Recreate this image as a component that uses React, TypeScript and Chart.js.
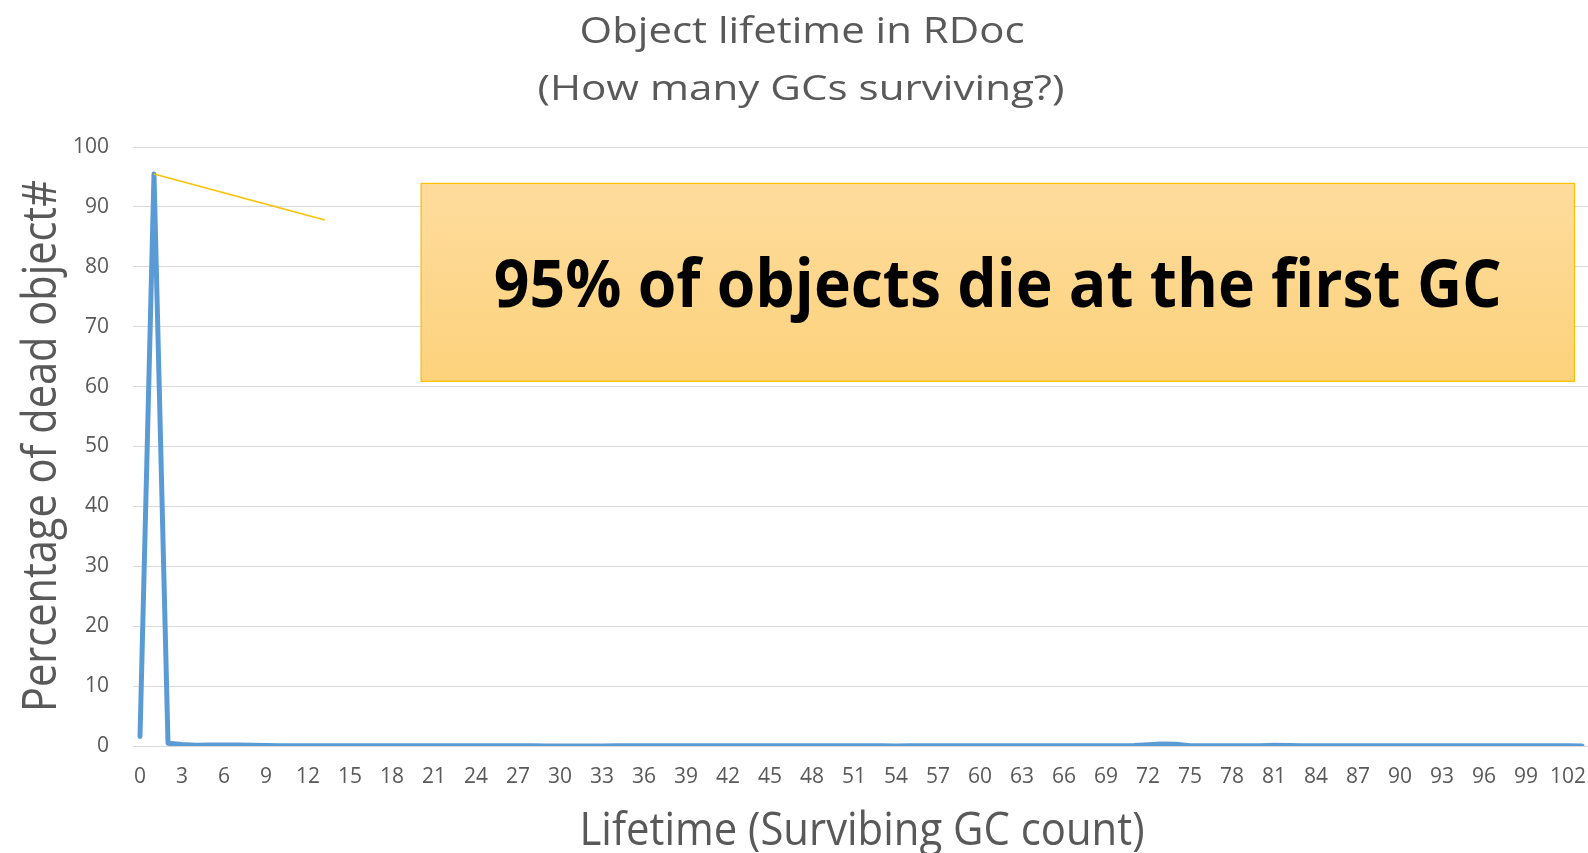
import React, { useEffect, useRef } from "react";
import { Chart, registerables } from "chart.js";

Chart.register(...registerables);

// ---- data ----
const lifetimeCategories: number[] = [
  0, 1, 2, 3, 4, 5, 6, 7, 8, 9, 10, 11, 12, 13, 14, 15, 16, 17, 18, 19,
  20, 21, 22, 23, 24, 25, 26, 27, 28, 29, 30, 31, 32, 33, 34, 35, 36, 37, 38, 39,
  40, 41, 42, 43, 44, 45, 46, 47, 48, 49, 50, 51, 52, 53, 54, 55, 56, 57, 58, 59,
  60, 61, 62, 63, 64, 65, 66, 67, 68, 69, 70, 71, 72, 73, 74, 75, 76, 77, 78, 79,
  80, 81, 82, 83, 84, 85, 86, 87, 88, 89, 90, 91, 92, 93, 94, 95, 96, 97, 98, 99,
  100, 101, 102, 103,
];

const deadObjectPercent: number[] = [
  1.6, 95.5, 0.45, 0.25, 0.12, 0.15, 0.15, 0.15, 0.12, 0.08,
  0.06, 0.06, 0.05, 0.05, 0.05, 0.04, 0.04, 0.04, 0.04, 0.03,
  0.04, 0.03, 0.03, 0.03, 0.03, 0.03, 0.03, 0.04, 0.03, 0.02,
  0.01, 0.01, 0.01, 0.02, 0.05, 0.05, 0.04, 0.04, 0.04, 0.04,
  0.04, 0.04, 0.04, 0.04, 0.04, 0.04, 0.04, 0.04, 0.04, 0.04,
  0.04, 0.04, 0.03, 0.03, 0.02, 0.04, 0.05, 0.04, 0.04, 0.04,
  0.04, 0.04, 0.04, 0.04, 0.04, 0.04, 0.04, 0.04, 0.04, 0.04,
  0.05, 0.08, 0.2, 0.35, 0.3, 0.06, 0.04, 0.04, 0.05, 0.05,
  0.06, 0.12, 0.08, 0.04, 0.03, 0.03, 0.03, 0.03, 0.03, 0.03,
  0.03, 0.04, 0.05, 0.04, 0.03, 0.03, 0.05, 0.04, 0.03, 0.03,
  0.03, 0.03, 0.03, 0.02,
];

const xTickLabels: string[] = [
  "0", "3", "6", "9", "12", "15", "18", "21", "24", "27", "30", "33", "36",
  "39", "42", "45", "48", "51", "54", "57", "60", "63", "66", "69", "72", "75",
  "78", "81", "84", "87", "90", "93", "96", "99", "102",
];

const chartTitleLines: string[] = ["Object lifetime in RDoc", "(How many GCs surviving?)"];
const xAxisTitle = "Lifetime (Survibing GC count)";
const yAxisTitle = "Percentage of dead object#";
const calloutText = "95% of objects die at the first GC";

// ---- styling ----
const TEXT_GRAY = "#595959";
const FONT = "'Open Sans', 'DejaVu Sans', sans-serif";

function drawFitText(
  ctx: CanvasRenderingContext2D,
  text: string,
  x: number,
  y: number,
  size: number,
  targetWidth: number,
  weight: string,
  color: string,
  rotate = 0
) {
  ctx.save();
  ctx.font = `${weight} ${size}px ${FONT}`;
  const w = ctx.measureText(text).width;
  const sx = targetWidth / w;
  ctx.translate(x, y);
  if (rotate) ctx.rotate(rotate);
  ctx.scale(sx, 1);
  ctx.textAlign = "center";
  ctx.textBaseline = "alphabetic";
  ctx.fillStyle = color;
  ctx.fillText(text, 0, 0);
  ctx.restore();
}

const decorPlugin = {
  id: "decor",
  beforeDatasetsDraw(chart: any) {
    const { ctx, scales } = chart;
    const xs = scales.x;
    const ys = scales.y;
    const left = xs.getPixelForValue(20.05);
    const right = xs.getPixelForValue(102.5);
    const top = ys.getPixelForValue(94.0);
    const bottom = ys.getPixelForValue(60.8);
    ctx.save();
    const g = ctx.createLinearGradient(0, top, 0, bottom);
    g.addColorStop(0, "#FEDC9D");
    g.addColorStop(1, "#FDD27C");
    ctx.fillStyle = g;
    ctx.fillRect(left, top, right - left, bottom - top);
    ctx.strokeStyle = "#FFC000";
    ctx.lineWidth = 1.2;
    ctx.strokeRect(left + 0.5, top + 0.5, right - left - 1, bottom - top - 1);
    ctx.restore();
    const cx = (left + right) / 2;
    const cy = (top + bottom) / 2;
    drawFitText(ctx, calloutText, cx, cy + 25, 67, 1008, "700", "#000000");
  },
  afterDatasetsDraw(chart: any) {
    const { ctx, scales } = chart;
    const meta = chart.getDatasetMeta(0);
    const peak = meta.data[1];
    const ex = scales.x.getPixelForValue(13.2);
    const ey = scales.y.getPixelForValue(87.8);
    ctx.save();
    ctx.strokeStyle = "#FFC000";
    ctx.lineWidth = 1.5;
    ctx.beginPath();
    ctx.moveTo(peak.x, peak.y);
    ctx.lineTo(ex, ey);
    ctx.stroke();
    ctx.restore();
  },
  afterDraw(chart: any) {
    const { ctx } = chart;
    drawFitText(ctx, chartTitleLines[0], 802, 43, 36, 445, "400", TEXT_GRAY);
    drawFitText(ctx, chartTitleLines[1], 801, 100, 35, 527, "400", TEXT_GRAY);
    drawFitText(ctx, xAxisTitle, 862, 845, 45, 565, "400", TEXT_GRAY);
    drawFitText(ctx, yAxisTitle, 56, 446, 47, 532, "400", TEXT_GRAY, -Math.PI / 2);
  },
};

export default function App() {
  const canvasRef = useRef<HTMLCanvasElement | null>(null);

  useEffect(() => {
    const canvas = canvasRef.current;
    if (!canvas) return;
    const chart = new Chart(canvas, {
      type: "line",
      data: {
        labels: lifetimeCategories.map(String),
        datasets: [
          {
            data: deadObjectPercent,
            borderColor: "#5B9BD5",
            backgroundColor: "#5B9BD5",
            borderWidth: 5,
            pointRadius: 0,
            pointHoverRadius: 0,
            tension: 0,
            borderJoinStyle: "round",
            borderCapStyle: "round",
            fill: false,
          },
        ],
      },
      options: {
        responsive: false,
        animation: false,
        devicePixelRatio: 1,
        layout: { padding: { left: 0, right: 0, top: 147, bottom: 0 } },
        plugins: {
          legend: { display: false },
          title: { display: false },
          tooltip: { enabled: false },
        },
        scales: {
          x: {
            type: "category",
            offset: true,
            grid: { display: false, drawTicks: false },
            border: { display: false },
            ticks: {
              autoSkip: false,
              maxRotation: 0,
              minRotation: 0,
              padding: 18,
              color: TEXT_GRAY,
              font: { family: FONT, size: 21 },
              callback: (_v: any, i: number) => {
                const s = String(lifetimeCategories[i]);
                return xTickLabels.includes(s) ? s : "";
              },
            },
            afterFit: (s: any) => {
              s.height = 107;
              s.paddingLeft = 0;
              s.paddingRight = 0;
            },
          },
          y: {
            min: 0,
            max: 100,
            grid: { color: "#D9D9D9", lineWidth: 1, drawTicks: false },
            border: { display: false },
            ticks: {
              stepSize: 10,
              padding: 24,
              color: TEXT_GRAY,
              font: { family: FONT, size: 21 },
            },
            afterFit: (s: any) => {
              s.width = 133;
              s.paddingTop = 0;
              s.paddingBottom = 0;
            },
          },
        },
      },
      plugins: [decorPlugin],
    } as any);
    return () => chart.destroy();
  }, []);

  return (
    <div
      style={{
        position: "fixed",
        left: 0,
        top: 0,
        width: 1588,
        height: 853,
        overflow: "hidden",
        background: "#ffffff",
      }}
    >
      <canvas
        ref={canvasRef}
        width={1589}
        height={853}
        style={{ display: "block", width: 1589, height: 853 }}
      />
    </div>
  );
}
